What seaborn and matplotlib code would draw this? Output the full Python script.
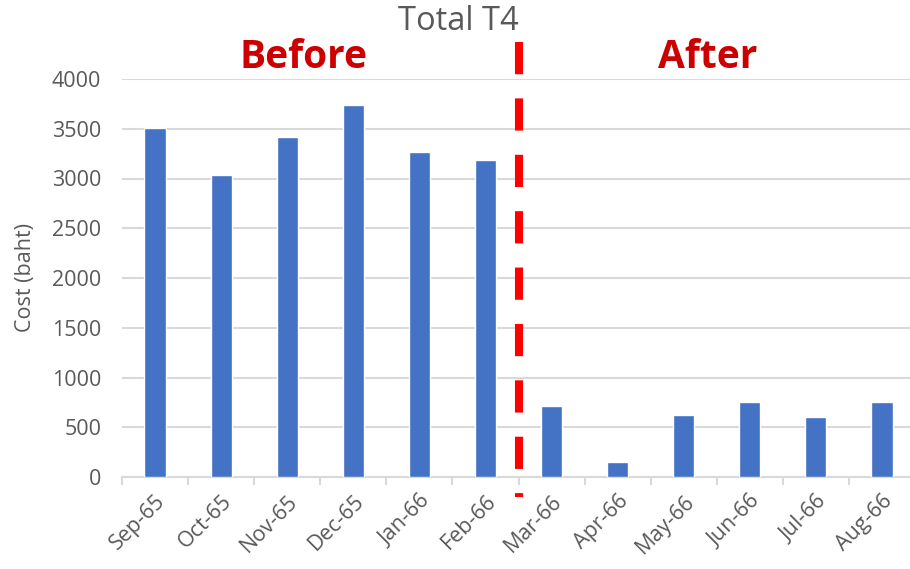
import matplotlib
matplotlib.use("Agg")
import matplotlib.pyplot as plt
import seaborn as sns
import pandas as pd
import numpy as np

# Monthly T4 cost, six months before and six months after the change
months = ["Sep-65", "Oct-65", "Nov-65", "Dec-65", "Jan-66", "Feb-66",
          "Mar-66", "Apr-66", "May-66", "Jun-66", "Jul-66", "Aug-66"]
cost = [3510, 3035, 3420, 3740, 3270, 3190,
        710, 150, 625, 750, 600, 750]
split_index = 6  # first month of the "After" period
y_ticks = [0, 500, 1000, 1500, 2000, 2500, 3000, 3500, 4000]

df = pd.DataFrame({"month": months, "cost": cost})

sns.set_theme(style="white")
plt.rcParams["font.family"] = ["Open Sans", "DejaVu Sans"]

GRAY_TXT = "#595959"
GRID = "#D9D9D9"
BAR = "#4472C4"
RED = "#CC0000"

fig = plt.figure(figsize=(9.10, 5.69), dpi=100)
ax = fig.add_axes([122 / 910, 1 - 477 / 569, 793 / 910, 398 / 569])

sns.barplot(data=df, x="month", y="cost", color=BAR, width=0.32,
            saturation=1, ax=ax, zorder=3)

ax.set_xlim(-0.5, len(months) - 0.5)
ax.set_ylim(0, 4000)
ax.set_yticks(y_ticks)
ax.set_yticklabels([str(t) for t in y_ticks], color=GRAY_TXT, fontsize=15.5)
ax.yaxis.grid(True, color=GRID, linewidth=1.5, zorder=0)
ax.tick_params(axis="y", length=0, pad=15)

# category labels, rotated
ax.set_xticks(range(len(months)))
ax.set_xticklabels(months, rotation=45, ha="right", rotation_mode="anchor",
                   color=GRAY_TXT, fontsize=15.5)
ax.tick_params(axis="x", length=0, pad=10)
# boundary tick marks between categories
ax.set_xticks(np.arange(-0.5, len(months), 1.0), minor=True)
ax.tick_params(axis="x", which="minor", length=6, width=1.5, color=GRID,
               bottom=True)

for side in ["top", "right", "left"]:
    ax.spines[side].set_visible(False)
ax.spines["bottom"].set_color(GRID)
ax.spines["bottom"].set_linewidth(1.5)

ax.set_xlabel("")
ax.set_ylabel("Cost (baht)", color=GRAY_TXT, fontsize=15.5)
ax.yaxis.set_label_coords(-(122 - 36) / 793, 0.5)

# dashed divider between the two periods
x_div = split_index - 0.5
ax.plot([x_div, x_div], [4370, -200], color="#FF0000", linewidth=5.8,
        linestyle=(0, (4, 3)), clip_on=False, zorder=5)

fig.text(458 / 910, 1 - 21 / 569, "Total T4", ha="center", va="center",
         color=GRAY_TXT, fontsize=23.5)
ax.text(2.25, 4220, "Before", ha="center", va="center", color=RED,
        fontsize=28, fontweight="bold")
ax.text(8.36, 4220, "After", ha="center", va="center", color=RED,
        fontsize=28, fontweight="bold")

fig.savefig("out.png", dpi=100, facecolor="white")
